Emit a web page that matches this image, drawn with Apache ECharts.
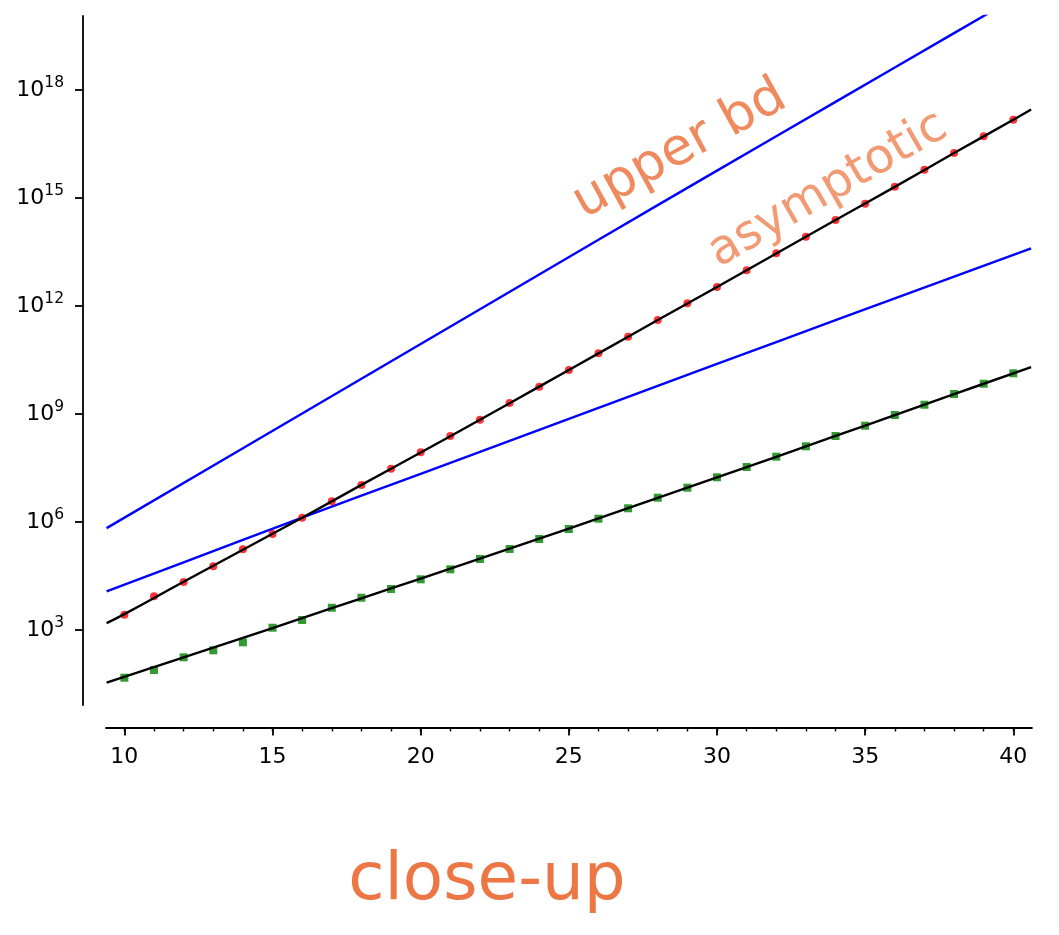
<!DOCTYPE html>
<html>
<head>
<meta charset="utf-8">
<title>close-up</title>
<script src="https://cdn.jsdelivr.net/npm/echarts@6/dist/echarts.min.js"></script>
<style>
  html, body { margin: 0; padding: 0; background: #ffffff; }
  #chart { width: 1059px; height: 935px; }
</style>
</head>
<body>
<div id="chart"></div>
<script>
// integer sizes n at which the two counts were computed
const sizes = [10, 11, 12, 13, 14, 15, 16, 17, 18, 19, 20, 21, 22, 23, 24, 25,
               26, 27, 28, 29, 30, 31, 32, 33, 34, 35, 36, 37, 38, 39, 40];

// red dots (upper count)
const redCounts = [2.66e3, 8.63e3, 2.15e4, 5.87e4, 1.75e5, 4.65e5, 1.315e6, 3.80e6,
  1.067e7, 3.03e7, 8.63e7, 2.45e8, 6.95e8, 2.02e9, 5.73e9, 1.667e10, 4.85e10,
  1.403e11, 4.08e11, 1.189e12, 3.39e12, 9.82e12, 2.91e13, 8.41e13, 2.45e14,
  6.95e14, 2.06e15, 6.11e15, 1.778e16, 5.18e16, 1.496e17];

// green squares (lower count)
const greenCounts = [47.3, 77.4, 174.6, 272.9, 455, 1159, 1897, 4159, 7889, 13772,
  25586, 48529, 93756, 177828, 337290, 639735, 1.236e6, 2.404e6, 4.732e6, 8.974e6,
  1.746e7, 3.373e7, 6.516e7, 1.268e8, 2.449e8, 4.732e8, 9.376e8, 1.811e9, 3.597e9,
  6.95e9, 1.352e10];

// asymptotic curves (black)
const asymX = [9.4, 10, 12, 14, 16, 18, 20, 22, 24, 26, 28, 30, 32, 34, 36, 38, 40, 40.6];
const asymRed = [1549, 2754, 2.188e4, 1.698e5, 1.318e6, 1.072e7, 8.511e7, 6.918e8,
  5.754e9, 4.842e10, 4.074e11, 3.388e12, 2.884e13, 2.455e14, 2.042e15, 1.778e16,
  1.496e17, 2.884e17];
const asymGreenX = [9.4, 12, 14, 16, 18, 20, 22, 24, 26, 28, 30, 32, 34, 36, 38, 40, 40.6];
const asymGreen = [34.7, 173.8, 602.6, 2138, 7586, 26915, 95499, 346737, 1.259e6,
  4.677e6, 1.738e7, 6.457e7, 2.455e8, 9.333e8, 3.548e9, 1.349e10, 1.995e10];

// bounds (blue)
const upperX = [9.4, 14, 18, 22, 26, 30, 34, 38, 40.6];
const upperBound = [6.761e5, 1.122e8, 9.55e9, 8.128e11, 6.918e13, 5.754e15,
  4.677e17, 3.802e19, 6.607e20];
const lowerX = [9.4, 12, 16, 20, 24, 28, 32, 36, 40.6];
const lowerBound = [11749, 75858, 1.318e6, 2.188e7, 3.631e8, 6.026e9, 1.0e11,
  1.622e12, 3.981e13];

// axis ticks
const xMajorTicks = [10, 15, 20, 25, 30, 35, 40];
const xMinorTicks = [10, 11, 12, 13, 14, 15, 16, 17, 18, 19, 20, 21, 22, 23, 24, 25,
                     26, 27, 28, 29, 30, 31, 32, 33, 34, 35, 36, 37, 38, 39, 40];
const yTicks = [1e3, 1e6, 1e9, 1e12, 1e15, 1e18];

const pairs = (xsArr, ysArr) => xsArr.map((x, i) => [x, ysArr[i]]);

const tickFont = 'DejaVu Sans';
const axisColor = '#000000';

const chart = echarts.init(document.getElementById('chart'), null, { renderer: 'canvas' });

chart.setOption({
  animation: false,
  backgroundColor: '#ffffff',
  grid: { left: 106, right: 27, top: 16, bottom: 230, containLabel: false },
  xAxis: [
    {
      type: 'value',
      position: 'bottom',
      min: 9.38,
      max: 40.63,
      offset: 22.5,
      axisLine: { show: true, onZero: false, lineStyle: { color: axisColor, width: 1.8 } },
      axisTick: { show: true, customValues: xMajorTicks, length: 8, inside: false,
                  lineStyle: { color: axisColor, width: 1.8 } },
      axisLabel: { show: true, customValues: xMajorTicks, margin: 19,
                   fontFamily: tickFont, fontSize: 22, color: '#000' },
      splitLine: { show: false }
    },
    {
      type: 'value',
      position: 'bottom',
      min: 9.38,
      max: 40.63,
      offset: 22.5,
      axisLine: { show: false },
      axisTick: { show: true, customValues: xMinorTicks, length: 4, inside: false,
                  lineStyle: { color: axisColor, width: 1.4 } },
      axisLabel: { show: false },
      splitLine: { show: false }
    }
  ],
  yAxis: {
    type: 'log',
    logBase: 10,
    position: 'left',
    min: 8.26,
    max: 1.137e20,
    offset: 23,
    axisLine: { show: true, onZero: false, lineStyle: { color: axisColor, width: 1.8 } },
    axisTick: { show: true, customValues: yTicks, length: 8, inside: false,
                lineStyle: { color: axisColor, width: 1.8 } },
    axisLabel: {
      show: true,
      customValues: yTicks,
      margin: 19,
      formatter: (v) => '{b|10}{s|' + Math.round(Math.log10(v)) + '}',
      rich: {
        b: { fontFamily: tickFont, fontSize: 22, color: '#000', lineHeight: 30 },
        s: { fontFamily: tickFont, fontSize: 15.5, color: '#000', lineHeight: 18, verticalAlign: 'top' }
      }
    },
    splitLine: { show: false }
  },
  series: [
    {
      name: 'upper bound',
      type: 'line',
      data: pairs(upperX, upperBound),
      smooth: true,
      showSymbol: false,
      lineStyle: { color: '#0000ff', width: 2.4 },
      z: 2
    },
    {
      name: 'lower bound',
      type: 'line',
      data: pairs(lowerX, lowerBound),
      smooth: true,
      showSymbol: false,
      lineStyle: { color: '#0000ff', width: 2.4 },
      z: 2
    },
    {
      name: 'red counts',
      type: 'scatter',
      data: pairs(sizes, redCounts),
      symbol: 'circle',
      symbolSize: 8,
      itemStyle: { color: '#ff0000' },
      z: 3
    },
    {
      name: 'green counts',
      type: 'scatter',
      data: pairs(sizes, greenCounts),
      symbol: 'rect',
      symbolSize: 8,
      itemStyle: { color: '#008000' },
      z: 3
    },
    {
      name: 'asymptotic red',
      type: 'line',
      data: pairs(asymX, asymRed),
      smooth: true,
      showSymbol: false,
      lineStyle: { color: '#000000', width: 2.4 },
      z: 4
    },
    {
      name: 'asymptotic green',
      type: 'line',
      data: pairs(asymGreenX, asymGreen),
      smooth: true,
      showSymbol: false,
      lineStyle: { color: '#000000', width: 2.4 },
      z: 4
    }
  ],
  graphic: [
    {
      type: 'text',
      x: 680, y: 150,
      rotation: 29 * Math.PI / 180,
      style: {
        text: 'upper bd',
        font: '52px "DejaVu Sans"',
        fill: '#ef8a5e',
        textAlign: 'center',
        textVerticalAlign: 'middle'
      },
      z: 10
    },
    {
      type: 'text',
      x: 828, y: 190,
      rotation: 30 * Math.PI / 180,
      style: {
        text: 'asymptotic',
        font: '48px "DejaVu Sans"',
        fill: '#f19a74',
        textAlign: 'center',
        textVerticalAlign: 'middle'
      },
      z: 10
    },
    {
      type: 'text',
      x: 487, y: 882,
      style: {
        text: 'close-up',
        font: '66px "DejaVu Sans"',
        fill: '#ec7744',
        textAlign: 'center',
        textVerticalAlign: 'middle'
      },
      z: 10
    }
  ]
});
</script>
</body>
</html>
